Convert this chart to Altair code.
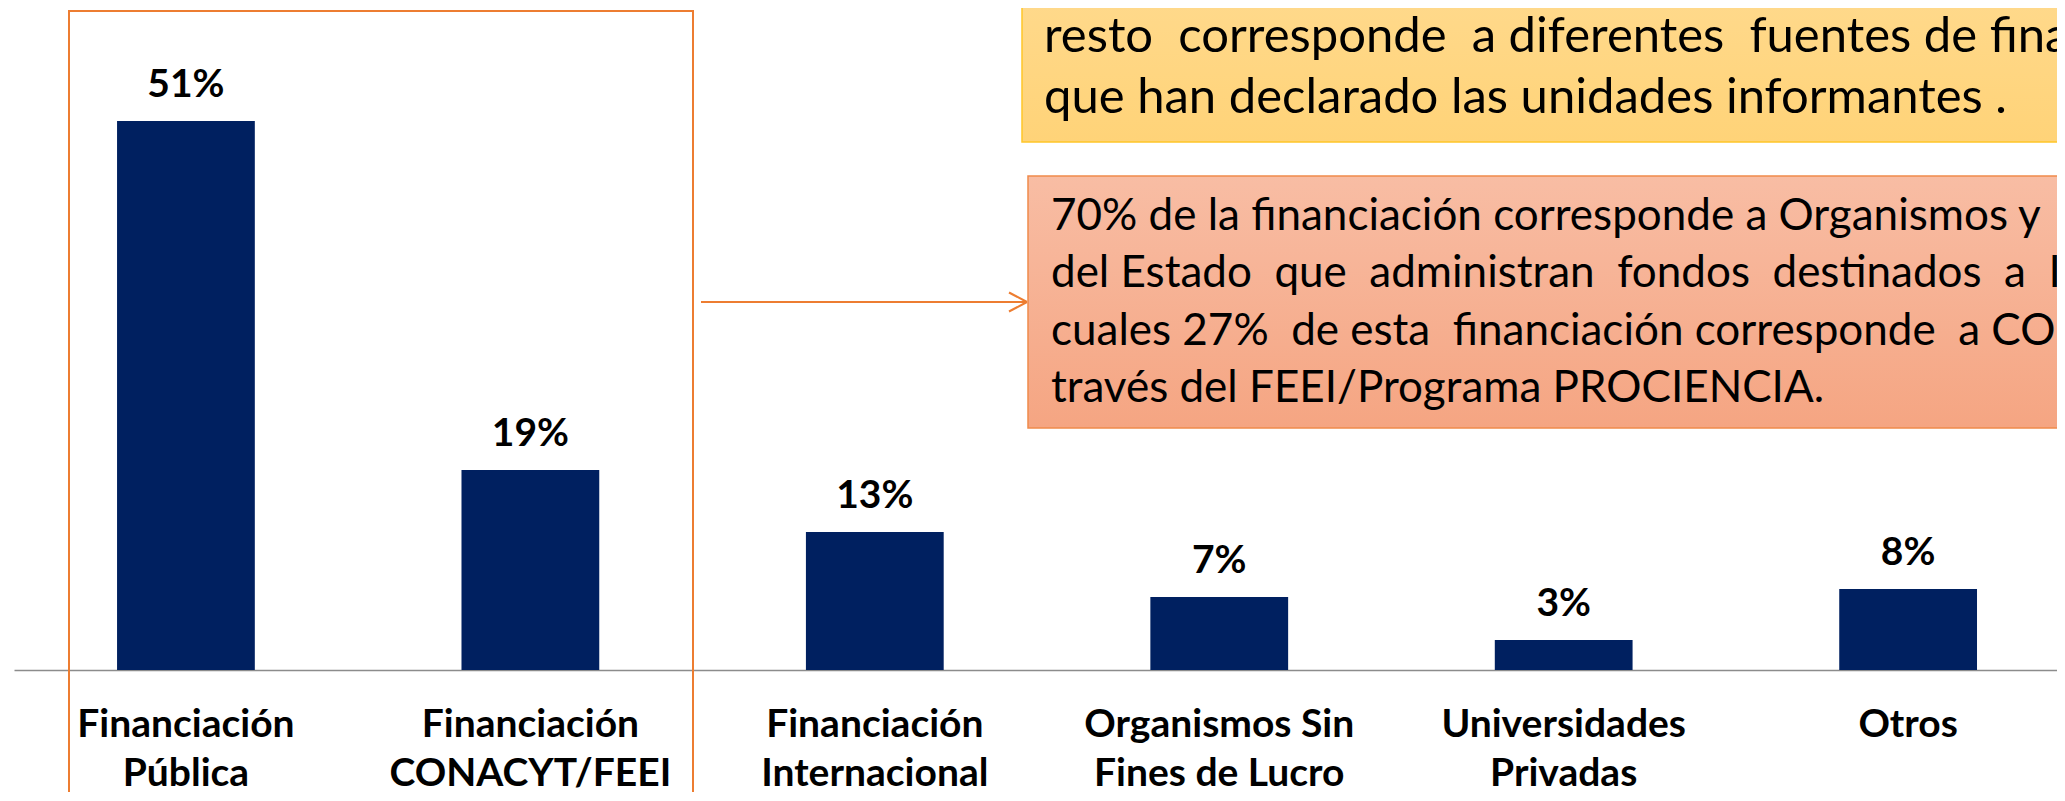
import altair as alt
import pandas as pd

# ---- data ----
categories = [
    "Financiación\nPública",
    "Financiación\nCONACYT/FEEI",
    "Financiación\nInternacional",
    "Organismos Sin\nFines de Lucro",
    "Universidades\nPrivadas",
    "Otros",
]
values = [51.26, 18.67, 12.89, 6.82, 2.80, 7.56]
value_labels = ["51%", "19%", "13%", "7%", "3%", "8%"]

nb = "\u00a0"
yellow_lines = [
    f"resto{nb} corresponde{nb} a diferentes{nb} fuentes de financiación",
    "que han declarado las unidades informantes .",
]
pink_lines = [
    "70% de la financiación corresponde a Organismos y",
    f"del Estado{nb} que{nb} administran{nb} fondos{nb} destinados{nb} a{nb} I+D",
    f"cuales 27%{nb} de esta{nb} financiación corresponde{nb} a CONACYT",
    "través del FEEI/Programa PROCIENCIA.",
]

df = pd.DataFrame({"cat": categories, "val": values, "lab": value_labels})
dummy = pd.DataFrame({"k": [0]})

FONT = "Lato"
NAVY = "#002060"
ORANGE = "#ED7D31"

x_enc = alt.X(
    "cat:N",
    sort=None,
    title=None,
    scale=alt.Scale(paddingInner=0.6, paddingOuter=0.2657, align=0.563),
    axis=alt.Axis(
        labelExpr="split(datum.label, '\\n')",
        labelAngle=0,
        labelFont=FONT,
        labelFontSize=39,
        labelFontWeight="bold",
        labelColor="#000000",
        labelLineHeight=49,
        labelBaseline="alphabetic",
        labelPadding=66,
        labelLimit=0,
        labelOverlap=False,
        ticks=False,
        tickSize=0,
        domainColor="#8C8C8C",
        domainWidth=1.5,
        grid=False,
    ),
)
y_enc = alt.Y("val:Q", axis=None, scale=alt.Scale(domain=[0, 61.81], nice=False, zero=True))

frame = alt.Chart(dummy).mark_rect(
    fillOpacity=0, stroke=ORANGE, strokeWidth=2
).encode(x=alt.value(55), x2=alt.value(679), y=alt.value(3), y2=alt.value(900))

bars = alt.Chart(df).mark_bar(color=NAVY).encode(x=x_enc, y=y_enc)

bar_labels = alt.Chart(df).mark_text(
    dy=-24, baseline="alphabetic", font=FONT, fontSize=39, fontWeight="bold", color="#000000"
).encode(x=x_enc, y=y_enc, text="lab:N")

shaft = alt.Chart(dummy).mark_rule(color=ORANGE, strokeWidth=2).encode(
    x=alt.value(687), x2=alt.value(1013), y=alt.value(294)
)
head1 = alt.Chart(dummy).mark_rule(color=ORANGE, strokeWidth=2).encode(
    x=alt.value(995), x2=alt.value(1013), y=alt.value(284.5), y2=alt.value(294)
)
head2 = alt.Chart(dummy).mark_rule(color=ORANGE, strokeWidth=2).encode(
    x=alt.value(995), x2=alt.value(1013), y=alt.value(303.5), y2=alt.value(294)
)

yellow_box = alt.Chart(dummy).mark_rect(
    fill=alt.Gradient(
        gradient="linear",
        stops=[alt.GradientStop(color="#FFDA8E", offset=0), alt.GradientStop(color="#FFD378", offset=1)],
        x1=0, x2=0, y1=0, y2=1,
    ),
    stroke="#FFC629",
    strokeWidth=1.5,
).encode(x=alt.value(1008), x2=alt.value(2120), y=alt.value(-30), y2=alt.value(134))

pink_box = alt.Chart(dummy).mark_rect(
    fill=alt.Gradient(
        gradient="linear",
        stops=[alt.GradientStop(color="#F8BDA4", offset=0), alt.GradientStop(color="#F5A582", offset=1)],
        x1=0, x2=0, y1=0, y2=1,
    ),
    stroke="#F08A4B",
    strokeWidth=1.5,
).encode(x=alt.value(1014), x2=alt.value(2120), y=alt.value(168), y2=alt.value(420))

yellow_text = alt.Chart(dummy).mark_text(
    text=yellow_lines, align="left", baseline="alphabetic", lineHeight=61,
    font=FONT, fontSize=49, color="#000000",
).encode(x=alt.value(1030), y=alt.value(44))

pink_text = alt.Chart(dummy).mark_text(
    text=pink_lines, align="left", baseline="alphabetic", lineHeight=57.3,
    font=FONT, fontSize=44, color="#000000",
).encode(x=alt.value(1037), y=alt.value(222))

chart = alt.layer(
    frame, bars, bar_labels, shaft, head1, head2, yellow_box, pink_box, yellow_text, pink_text
).properties(
    width=2043,
    height=662,
    padding={"left": 6, "top": 0, "right": 0, "bottom": 122},
    autosize=alt.AutoSizeParams(type="none"),
).configure_view(stroke=None)

chart.save("out.html", embed_options={"renderer": "svg", "actions": False})
